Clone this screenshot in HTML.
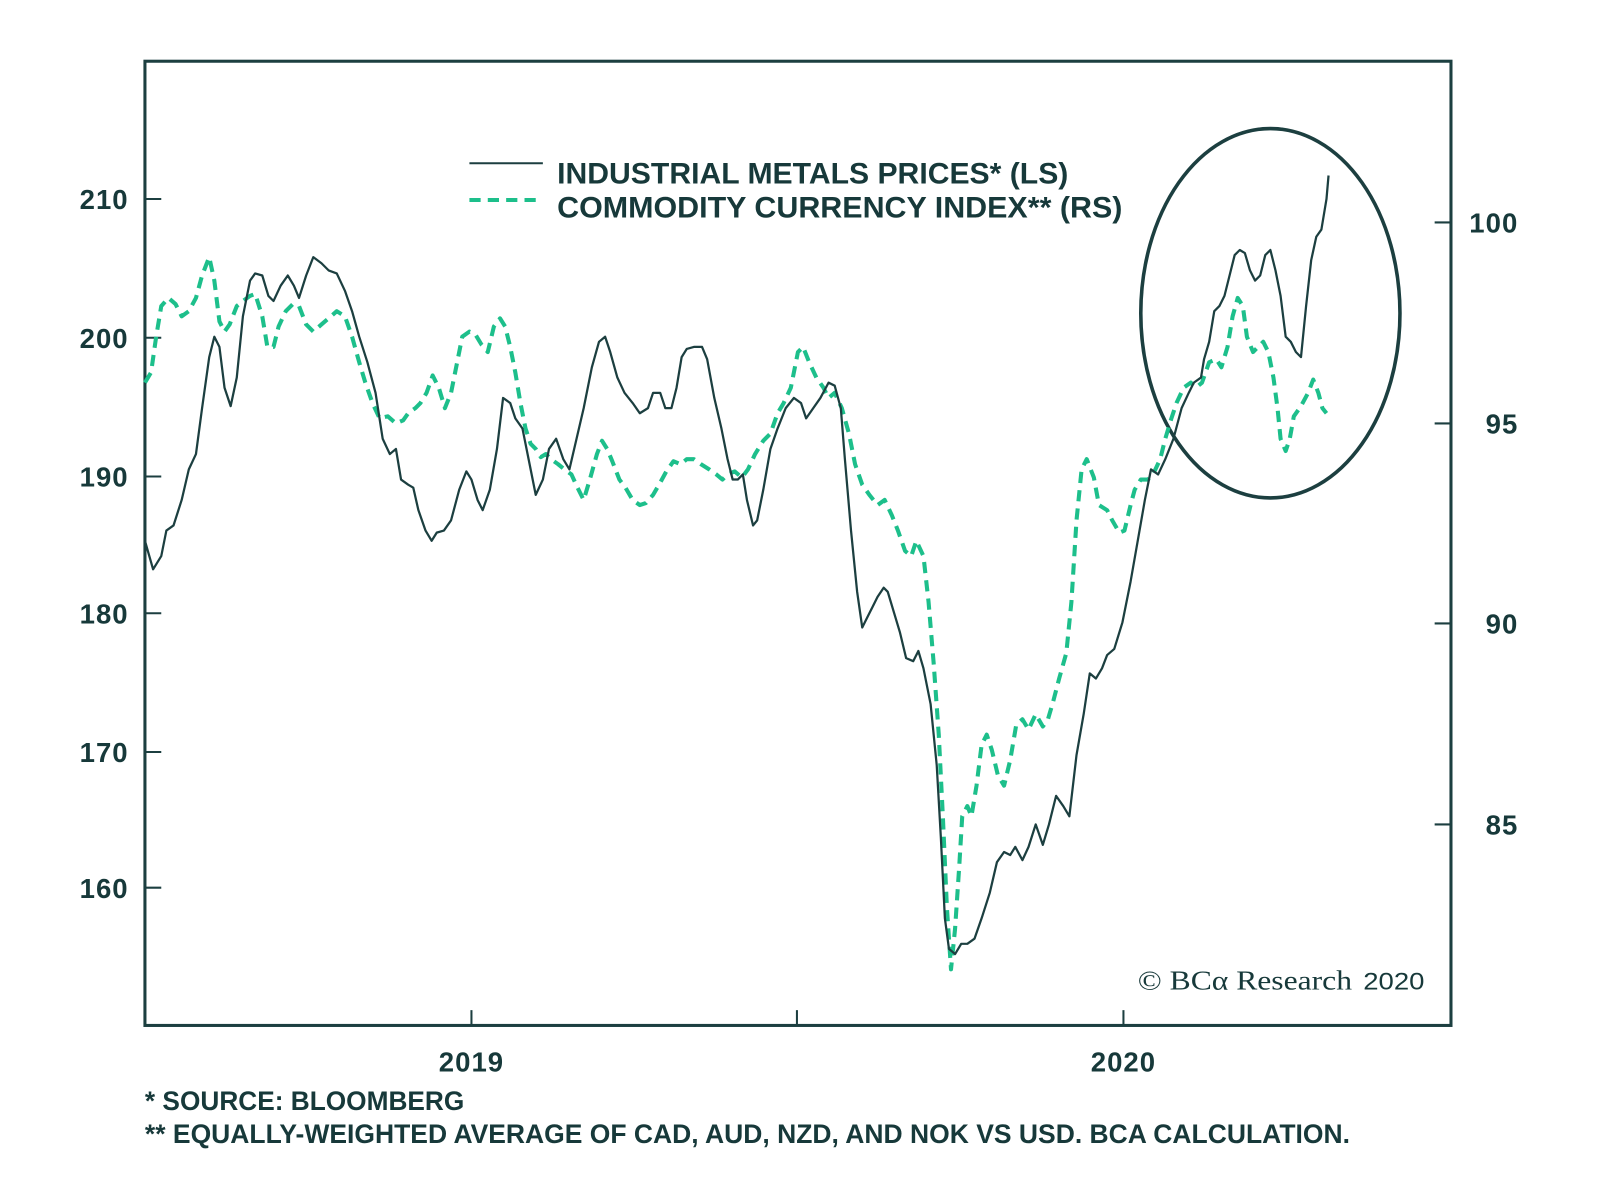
<!DOCTYPE html>
<html><head><meta charset="utf-8"><style>html,body{margin:0;padding:0;background:#fff}svg{display:block}</style></head>
<body>
<svg width="1600" height="1189" viewBox="0 0 1568 1165.3" xmlns="http://www.w3.org/2000/svg" font-family="Liberation Sans, sans-serif" fill="#17393a">
<rect x="142" y="60" width="1280" height="945" fill="none" stroke="#1c3f40" stroke-width="3"/>
<g stroke="#1c3f40" stroke-width="2">
<line x1="142" y1="195" x2="158" y2="195"/><line x1="142" y1="331" x2="158" y2="331"/><line x1="142" y1="467" x2="158" y2="467"/><line x1="142" y1="601" x2="158" y2="601"/><line x1="142" y1="737" x2="158" y2="737"/><line x1="142" y1="870" x2="158" y2="870"/>
<line x1="1406" y1="218" x2="1422" y2="218"/><line x1="1406" y1="415" x2="1422" y2="415"/><line x1="1406" y1="611" x2="1422" y2="611"/><line x1="1406" y1="808" x2="1422" y2="808"/>
<line x1="462" y1="990" x2="462" y2="1005"/><line x1="781" y1="990" x2="781" y2="1005"/><line x1="1101" y1="990" x2="1101" y2="1005"/>
</g>
<g font-size="27" font-weight="bold" text-anchor="end" letter-spacing="1">
<text x="126" y="205">210</text><text x="126" y="341">200</text><text x="126" y="477">190</text><text x="126" y="611">180</text><text x="126" y="747">170</text><text x="126" y="880">160</text>
</g>
<g font-size="27" font-weight="bold" text-anchor="end" letter-spacing="1">
<text x="1488" y="228">100</text><text x="1488" y="425">95</text><text x="1488" y="621">90</text><text x="1488" y="818">85</text>
</g>
<g font-size="27" font-weight="bold" text-anchor="middle" letter-spacing="1">
<text x="462" y="1050">2019</text><text x="1101" y="1050">2020</text>
</g>
<line x1="460" y1="160" x2="532" y2="160" stroke="#1c3f40" stroke-width="2"/>
<line x1="460" y1="196" x2="532" y2="196" stroke="#1dbf8b" stroke-width="4" stroke-dasharray="11,7"/>
<text x="546" y="180" font-size="29" font-weight="600" textLength="501" lengthAdjust="spacingAndGlyphs">INDUSTRIAL METALS PRICES* (LS)</text>
<text x="546" y="213" font-size="29" font-weight="600" textLength="554" lengthAdjust="spacingAndGlyphs">COMMODITY CURRENCY INDEX** (RS)</text>
<ellipse cx="1245" cy="307" rx="127" ry="181" fill="none" stroke="#1c3f40" stroke-width="3.5"/>
<text x="1115" y="970" font-family="Liberation Serif, serif" font-size="27" textLength="210" lengthAdjust="spacingAndGlyphs">© BCα Research</text>
<text x="1336" y="970" font-size="24" textLength="60" lengthAdjust="spacingAndGlyphs">2020</text>
<polyline fill="none" stroke="#1dbf8b" stroke-width="4" stroke-dasharray="11,7" stroke-linejoin="round" points="142,375 148,365 153,330 158,300 165,292 172,298 178,310 185,305 192,292 198,270 205,252 210,275 215,315 220,325 225,318 232,300 238,295 245,290 250,288 257,310 262,340 268,340 273,320 280,305 287,298 293,300 300,318 307,325 315,318 322,312 330,305 338,310 345,330 352,355 358,375 365,395 372,410 380,408 388,415 395,412 400,405 407,400 412,395 418,385 424,368 430,380 436,400 442,385 448,355 453,330 460,325 466,328 472,338 478,345 484,320 490,312 495,320 500,340 505,365 510,395 515,420 520,435 525,440 530,448 535,445 540,450 547,455 553,460 560,465 566,478 572,490 578,470 585,445 590,432 595,440 600,452 607,470 613,478 620,490 627,495 633,493 640,485 647,473 653,462 660,452 667,455 673,450 680,450 687,455 695,460 702,465 708,470 713,465 720,462 727,468 733,460 740,445 748,432 755,425 762,405 768,395 775,380 782,345 787,340 793,355 800,370 807,380 812,390 818,385 825,400 832,425 838,455 845,475 852,485 860,495 867,490 874,505 880,520 887,540 893,545 898,530 905,545 910,590 915,650 920,720 924,800 928,890 932,950 936,910 940,850 943,800 948,790 952,800 957,770 962,730 967,720 972,735 978,760 984,770 990,745 996,710 1002,705 1008,715 1015,700 1022,712 1027,705 1032,688 1038,665 1045,640 1050,590 1055,510 1060,460 1065,450 1072,468 1077,495 1085,500 1090,510 1097,522 1102,520 1108,495 1112,480 1118,470 1125,470 1130,465 1137,450 1142,430 1148,410 1153,395 1160,380 1167,375 1172,380 1178,375 1185,355 1192,352 1197,360 1203,340 1208,310 1213,292 1218,300 1222,330 1228,345 1233,340 1238,335 1243,345 1248,370 1252,400 1255,430 1260,442 1264,430 1268,408 1275,398 1282,385 1287,372 1292,385 1296,400 1300,405"/>
<polyline fill="none" stroke="#1c3f40" stroke-width="2.2" stroke-linejoin="round" points="142,530 150,558 158,545 163,520 170,515 178,490 185,460 192,445 198,400 205,350 210,330 215,340 220,380 226,398 232,370 238,310 245,275 250,268 257,270 263,290 268,295 275,280 282,270 288,280 293,292 300,270 307,252 315,258 322,265 330,268 338,285 345,305 352,330 360,355 368,385 375,430 382,445 388,440 393,470 400,475 405,478 410,500 417,520 423,530 428,522 435,520 442,510 450,480 457,462 462,470 468,490 473,500 480,480 487,440 493,390 500,395 505,410 512,420 518,450 525,485 532,470 538,440 545,430 552,450 558,460 565,430 572,400 580,360 587,335 593,330 598,345 605,370 612,385 620,395 627,405 635,400 640,385 647,385 652,400 658,400 663,380 668,350 673,342 680,340 688,340 693,352 700,390 707,420 713,450 718,470 723,470 728,465 732,490 738,515 742,510 748,480 755,440 762,420 770,400 778,390 785,395 790,410 797,400 804,390 812,375 818,378 824,400 828,450 834,520 840,580 845,615 850,605 855,595 860,585 866,576 870,580 876,600 882,620 888,645 895,648 900,638 905,655 912,690 918,750 922,820 926,900 930,930 936,935 942,925 948,925 955,920 962,900 970,875 977,845 984,835 990,838 995,830 1002,843 1008,830 1015,808 1022,828 1028,808 1035,780 1042,790 1048,800 1055,740 1062,700 1068,660 1074,665 1080,655 1085,642 1092,636 1100,610 1108,570 1115,530 1122,490 1128,460 1135,465 1142,450 1150,430 1158,400 1165,385 1170,375 1177,370 1180,352 1185,335 1190,305 1195,300 1200,290 1205,270 1210,250 1215,245 1220,248 1225,265 1230,275 1235,270 1240,250 1245,245 1250,265 1255,290 1260,330 1265,335 1270,345 1275,350 1280,300 1285,255 1290,232 1295,225 1300,195 1302,172"/>
<text x="142" y="1088" font-size="26" font-weight="bold" textLength="313" lengthAdjust="spacingAndGlyphs">*  SOURCE: BLOOMBERG</text>
<text x="142" y="1120" font-size="26" font-weight="bold" textLength="1181" lengthAdjust="spacingAndGlyphs">** EQUALLY-WEIGHTED AVERAGE OF CAD, AUD, NZD, AND NOK VS USD. BCA CALCULATION.</text>
</svg>
</body></html>
